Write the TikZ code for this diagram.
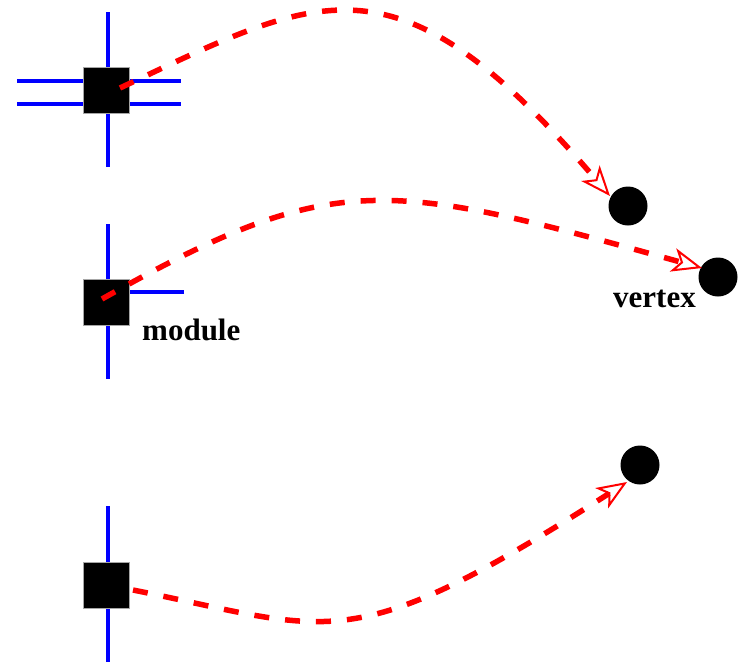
\documentclass[tikz,border=0pt]{standalone}
\usepackage{fontspec}
\setmainfont{Liberation Serif}
\usetikzlibrary{arrows.meta,calc}
\begin{document}
\begin{tikzpicture}[x=1pt,y=-1pt,
  modbox/.style={fill=black,draw=gray!70,line width=0.8pt,minimum size=46pt,inner sep=0pt},
  vert/.style={circle,fill=black,minimum size=39pt,inner sep=0pt},
  wire/.style={blue,line width=4pt},
  link/.style={red,line width=5.5pt,dash pattern=on 15pt off 16pt,
    -{Stealth[open,length=30pt,width=24pt,inset=8pt,line width=2pt]}},
  lbl/.style={font=\bfseries\fontsize{31}{36}\selectfont,inner sep=0pt}]
\useasboundingbox (0,0) rectangle (751,664);
% wires
\coordinate (w1t) at (107.5,12);
\coordinate (w1b) at (107.5,167);
\coordinate (w1al) at (17,80.5);
\coordinate (w1ar) at (181,80.5);
\coordinate (w1bl) at (17,104);
\coordinate (w1br) at (181,104);
\coordinate (w2t) at (107.5,224);
\coordinate (w2b) at (107.5,379);
\coordinate (w2r) at (184,292);
\coordinate (w3t) at (107.5,506);
\coordinate (w3b) at (107.5,662);
\draw[wire] (w1t) -- (w1b);
\draw[wire] (w1al) -- (w1ar);
\draw[wire] (w1bl) -- (w1br);
\draw[wire] (w2t) -- (w2b);
\draw[wire] (w2r) -- (106,292);
\draw[wire] (w3t) -- (w3b);
% modules
\node[modbox] (s1) at (106,90) {};
\node[modbox] (s2) at (106,302) {};
\node[modbox] (s3) at (106,585) {};
% vertices
\node[vert] (v1) at (628,206) {};
\node[vert] (v2) at (718,277) {};
\node[vert] (v3) at (640,465) {};
% labels
\node[lbl,anchor=base west] (m) at (142,340) {module};
\node[lbl,anchor=base west] (vx) at (613,307) {vertex};
% links
\draw[link] ($(s1)+(14,-2)$) .. controls (322,-7) and (396,-54) .. ($(v1)+(-18,-10)$);
\draw[link] ($(s2)+(-4,-3)$) .. controls (335,168) and (385,180) .. ($(v2)+(-16,-9)$);
\draw[link] ($(s3)+(27,5)$) .. controls (333,630) and (347,661) .. ($(v3)+(-13,17)$);
\end{tikzpicture}
\end{document}
